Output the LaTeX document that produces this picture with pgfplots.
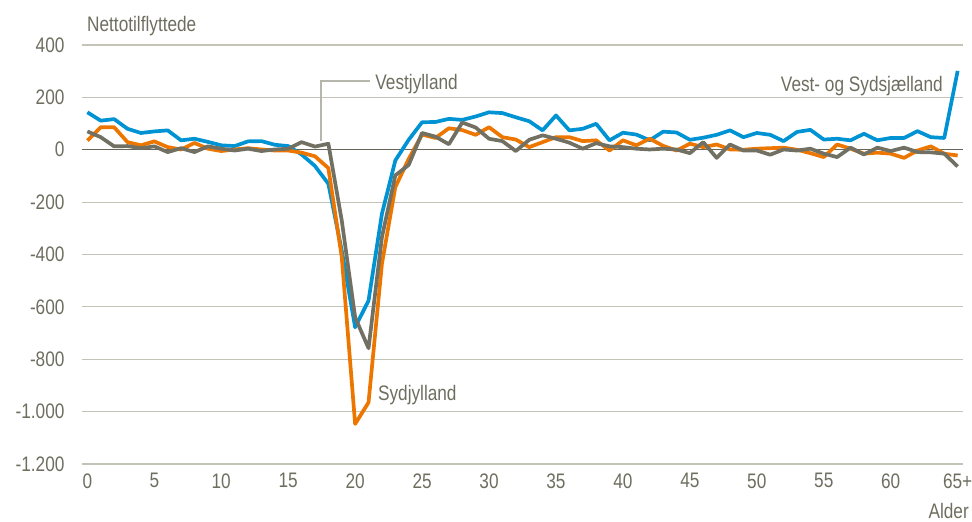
\documentclass[border=0pt]{standalone}
\usepackage{fontspec}
\setmainfont{Liberation Sans}[FakeStretch=0.82]
\usepackage{pgfplots}
\pgfplotsset{compat=1.18}
\definecolor{cblue}{RGB}{0,147,211}
\definecolor{corange}{RGB}{236,118,0}
\definecolor{cgray}{RGB}{113,112,98}
\definecolor{ctext}{RGB}{110,110,96}
\definecolor{cgrid}{RGB}{196,195,182}
\begin{document}
\begin{tikzpicture}[font=\fontsize{21pt}{24pt}\selectfont]
\begin{axis}[
  scale only axis,
  width=881pt, height=419pt,
  xmin=-0.4, xmax=65.4,
  ymin=-1200, ymax=400,
  axis line style={draw=none},
  major tick length=0pt,
  xtick={0,5,...,65},
  xticklabels={0,5,10,15,20,25,30,35,40,45,50,55,60,65+},
  ytick={-1200,-1000,...,400},
  yticklabels={-1.200,-1.000,-800,-600,-400,-200,0,200,400},
  ymajorgrids,
  grid style={cgrid, line width=1.2pt},
  tick label style={text=ctext},
  yticklabel style={xshift=-14pt},
  xticklabel style={yshift=-6pt},
  clip=false,
]
\draw[cgray!90!black, line width=1.3pt] (axis cs:-0.4,0) -- (axis cs:65.4,0);
\addplot[cblue, line width=3.7pt, line join=round] coordinates {
(0,143)(1,111)(2,117)(3,80)(4,64)(5,70)(6,74)(7,36)(8,42)(9,30)(10,17)(11,14)(12,32)(13,33)(14,19)(15,14)(16,-18)(17,-62)(18,-130)(19,-385)(20,-678)(21,-576)(22,-245)(23,-41)(24,38)(25,105)(26,106)(27,118)(28,114)(29,127)(30,143)(31,140)(32,124)(33,109)(34,74)(35,131)(36,74)(37,80)(38,99)(39,36)(40,65)(41,58)(42,36)(43,69)(44,66)(45,38)(46,46)(47,57)(48,74)(49,48)(50,64)(51,57)(52,33)(53,68)(54,76)(55,39)(56,42)(57,36)(58,61)(59,36)(60,45)(61,45)(62,71)(63,48)(64,45)(65,301)
};
\addplot[corange, line width=3.7pt, line join=round] coordinates {
(0,35)(1,86)(2,86)(3,29)(4,17)(5,32)(6,10)(7,1)(8,26)(9,4)(10,-5)(11,1)(12,6)(13,1)(14,-3)(15,-3)(16,-11)(17,-25)(18,-70)(19,-410)(20,-1047)(21,-965)(22,-436)(23,-143)(24,-35)(25,58)(26,45)(27,82)(28,75)(29,57)(30,86)(31,48)(32,39)(33,10)(34,29)(35,48)(36,48)(37,33)(38,36)(39,-3)(40,36)(41,17)(42,42)(43,15)(44,-3)(45,23)(46,10)(47,20)(48,1)(49,0)(50,4)(51,6)(52,8)(53,0)(54,-13)(55,-28)(56,20)(57,4)(58,-15)(59,-11)(60,-15)(61,-31)(62,-3)(63,13)(64,-15)(65,-22)
};
\addplot[cgray, line width=3.7pt, line join=round] coordinates {
(0,70)(1,48)(2,13)(3,14)(4,6)(5,13)(6,-9)(7,6)(8,-9)(9,13)(10,4)(11,-3)(12,4)(13,-5)(14,1)(15,4)(16,29)(17,12)(18,23)(19,-270)(20,-640)(21,-758)(22,-334)(23,-98)(24,-58)(25,64)(26,50)(27,21)(28,104)(29,85)(30,42)(31,33)(32,-5)(33,38)(34,55)(35,42)(36,27)(37,4)(38,25)(39,13)(40,10)(41,4)(42,1)(43,4)(44,1)(45,-13)(46,29)(47,-31)(48,20)(49,-3)(50,-3)(51,-19)(52,1)(53,-3)(54,4)(55,-15)(56,-28)(57,8)(58,-18)(59,8)(60,-5)(61,8)(62,-9)(63,-10)(64,-15)(65,-64)
};
\draw[cgrid!80!gray, line width=1.3pt] (axis cs:17.45,35) -- (axis cs:17.45,262) -- (axis cs:21.1,262);
\node[anchor=base west, inner sep=0pt, text=ctext] at (axis cs:21.5,230) {Vestjylland};
\node[anchor=base west, inner sep=0pt, text=ctext] at (axis cs:21.7,-957) {Sydjylland};
\node[anchor=base east, inner sep=0pt, text=ctext] at (axis cs:63.9,224) {Vest- og Sydsjælland};
\node[anchor=base west, inner sep=0pt, text=ctext] at ([xshift=5pt, yshift=13pt]current axis.north west) {Nettotilflyttede};
\node[anchor=base east, inner sep=0pt, text=ctext] at ([xshift=6pt, yshift=-54pt]current axis.south east) {Alder};
\end{axis}
\pgfresetboundingbox
\path[use as bounding box] ([xshift=-82pt, yshift=-58pt]current axis.south west) rectangle ([xshift=9pt, yshift=45pt]current axis.north east);
\end{tikzpicture}
\end{document}
